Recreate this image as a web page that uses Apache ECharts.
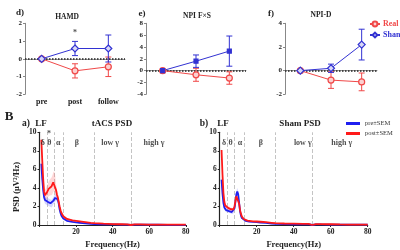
<!DOCTYPE html>
<html><head><meta charset="utf-8">
<script src="https://cdn.jsdelivr.net/npm/echarts@6/dist/echarts.min.js"></script>
<style>html,body{margin:0;padding:0;background:#fff}#c{width:400px;height:250px}</style>
</head><body><div id="c"></div>
<script>
// ---------- data ----------
const categories = ['pre', 'post', 'follow'];
const hamdReal = [0, -0.68, -0.45];
const hamdRealErr = [0, 0.4, 0.55];
const hamdSham = [0, 0.58, 0.58];
const hamdShamErr = [0, 0.4, 0.76];
const npiFSReal = [0, -0.7, -1.25];
const npiFSRealErr = [0, 1.1, 1.05];
const npiFSSham = [0, 1.6, 3.3];
const npiFSShamErr = [0, 1.05, 2.55];
const npiDReal = [0, -0.8, -0.95];
const npiDRealErr = [0, 0.7, 0.75];
const npiDSham = [0, 0.2, 2.2];
const npiDShamErr = [0, 0.35, 1.3];

const freqs = [1,1.5,2,2.5,3,3.5,4,4.5,5,5.5,6,6.5,7,7.5,8,8.5,9,9.5,10,10.5,11,11.5,12,13,14,15,16,18,20,22,25,28,30,35,40,45,48,49,50,51,52,55,60,65,70,75,80];
const tacsPre = [6.6,5.0,3.8,3.0,2.7,2.6,2.55,2.5,2.45,2.4,2.35,2.3,2.4,2.6,2.75,2.9,3.0,3.0,2.8,2.3,1.7,1.3,1.0,0.7,0.55,0.45,0.4,0.33,0.28,0.24,0.18,0.12,0.1,0.07,0.06,0.05,0.05,0.03,0.0,0.03,0.04,0.04,0.03,0.03,0.02,0.02,0.02];
const tacsPost = [9.2,7.0,5.0,3.6,3.2,3.3,3.5,3.7,3.9,4.0,4.1,4.15,4.3,4.6,4.75,4.5,3.8,3.3,3.0,2.5,2.0,1.6,1.3,0.95,0.75,0.65,0.58,0.5,0.45,0.4,0.32,0.24,0.2,0.14,0.1,0.08,0.07,0.04,0.0,0.04,0.06,0.06,0.05,0.04,0.04,0.03,0.03];
const shamPre = [4.9,3.4,2.4,1.9,1.7,1.6,1.55,1.55,1.5,1.5,1.45,1.4,1.4,1.5,1.8,2.5,3.3,3.6,3.3,2.4,1.5,1.0,0.75,0.55,0.45,0.4,0.37,0.33,0.3,0.27,0.22,0.15,0.12,0.09,0.08,0.08,0.09,0.05,0.0,0.05,0.07,0.06,0.05,0.04,0.04,0.03,0.03];
const shamPost = [8.1,5.5,3.5,2.5,2.1,2.0,1.9,1.85,1.8,1.75,1.7,1.65,1.6,1.7,2.0,2.6,3.1,3.3,3.0,2.3,1.6,1.2,0.9,0.65,0.52,0.47,0.43,0.4,0.38,0.35,0.3,0.24,0.2,0.16,0.14,0.12,0.12,0.06,0.0,0.06,0.1,0.09,0.08,0.06,0.05,0.05,0.04];
const semTacsPre = [0.6,0.5,0.45,0.4,0.4, 0.4,0.4,0.4,0.4,0.4, 0.4,0.4,0.4,0.4,0.4, 0.4,0.4,0.4,0.35,0.3, 0.25,0.2,0.15,0.1,0.08, 0.07,0.06,0.05,0.05,0.04, 0.03,0.03,0.02,0.02,0.02, 0.02,0.02,0.02,0.01,0.02, 0.02,0.02,0.02,0.01,0.01, 0.01,0.01];
const semTacsPost = [0.7,0.65,0.6,0.6,0.6, 0.65,0.7,0.75,0.8,0.85, 0.9,0.95,1.0,1.05,1.05, 0.95,0.7,0.55,0.5,0.45, 0.4,0.3,0.25,0.18,0.14, 0.12,0.1,0.08,0.07,0.06, 0.05,0.04,0.03,0.03,0.02, 0.02,0.02,0.02,0.01,0.02, 0.02,0.02,0.02,0.02,0.01, 0.01,0.01];
const semShamPre = [0.45,0.35,0.3,0.25,0.22, 0.2,0.2,0.2,0.2,0.2, 0.2,0.2,0.2,0.2,0.25, 0.3,0.35,0.4,0.35,0.3, 0.2,0.15,0.1,0.08,0.06, 0.05,0.05,0.04,0.04,0.03, 0.03,0.02,0.02,0.02,0.02, 0.02,0.02,0.02,0.01,0.02, 0.02,0.02,0.02,0.01,0.01, 0.01,0.01];
const semShamPost = [0.5,0.4,0.3,0.25,0.22, 0.2,0.2,0.2,0.2,0.2, 0.2,0.2,0.2,0.2,0.25, 0.3,0.35,0.35,0.3,0.25, 0.2,0.15,0.1,0.08,0.06, 0.05,0.05,0.04,0.04,0.03, 0.03,0.02,0.02,0.02,0.02, 0.02,0.02,0.02,0.01,0.02, 0.02,0.02,0.02,0.01,0.01, 0.01,0.01];

const bandEdges = [4, 8, 13, 30, 50];
const bandLabelsA = [['δ', 1.8], ['θ', 5.4], ['α', 10.3], ['β', 20.4], ['low γ', 38.6], ['high γ', 62.6]];
const bandLabelsB = [['δ', 2.3], ['θ', 5.9], ['α', 11], ['β', 22.3], ['low γ', 44.9], ['high γ', 66]];
const bandLabelY = 8.9;
const starA = [[5.2, 9.85]];
const starHamd = [[1, 1.45]];
const topRanges = [[-2, 2, 1], [-4, 8, 2], [-2, 4, 2]];
const psdTicks = [0, 10, 2];
const freqRange = [0, 80, 20];

// ---------- style ----------
const SERIF = '"Liberation Serif","Times New Roman",serif';
const RED = '#f04848', BLUE = '#3232d2';
const PRED = '#ff1a1a', PBLUE = '#1f1ff0';
const TXT = '#222';

function errSeries(xi, mean, err, color) {
  return {
    type: 'custom', xAxisIndex: xi, yAxisIndex: xi, z: 3, silent: true,
    data: mean.map((m, i) => [i, m, err[i]]),
    encode: { x: 0, y: 1 },
    renderItem: function (p, api) {
      const x = api.value(0), m = api.value(1), e = api.value(2);
      if (!e) return { type: 'group', children: [] };
      const t = api.coord([x, m + e]), b = api.coord([x, m - e]); const w = 3;
      const st = { stroke: color, lineWidth: 1 };
      return { type: 'group', children: [
        { type: 'line', shape: { x1: t[0], y1: t[1], x2: b[0], y2: b[1] }, style: st },
        { type: 'line', shape: { x1: t[0] - w, y1: t[1], x2: t[0] + w, y2: t[1] }, style: st },
        { type: 'line', shape: { x1: b[0] - w, y1: b[1], x2: b[0] + w, y2: b[1] }, style: st }
      ]};
    }
  };
}
function topLine(xi, name, data, color, fill, symbol, size, zero) {
  const s = {
    type: 'line', name: name, xAxisIndex: xi, yAxisIndex: xi, data: data,
    symbol: symbol, symbolSize: size, z: 4, emphasis: { disabled: true },
    lineStyle: { color: color, width: 1 },
    itemStyle: { color: fill, borderColor: color, borderWidth: 1.2 }
  };
  if (zero) s.markLine = { silent: true, symbol: 'none', label: { show: false }, z: 1,
    lineStyle: { type: 'dotted', color: '#222', width: 1.5 }, data: [{ yAxis: 0 }] };
  return s;
}
function psdLine(xi, name, vals, color, edges) {
  const s = {
    type: 'line', name: name, xAxisIndex: xi, yAxisIndex: xi, symbol: 'none', z: 4,
    data: freqs.map((f, i) => [f, vals[i]]), emphasis: { disabled: true },
    lineStyle: { color: color, width: 1.8 }, itemStyle: { color: color }
  };
  if (edges) s.markLine = { silent: true, symbol: 'none', label: { show: false }, z: 1,
    lineStyle: { type: 'dashed', color: '#c4c4c4', width: 1 }, data: bandEdges.map(v => ({ xAxis: v })) };
  return s;
}
function bandSeries(xi, mean, sem, color) {
  return {
    type: 'custom', xAxisIndex: xi, yAxisIndex: xi, z: 2, silent: true,
    data: [[freqs[0], mean[0]]],
    renderItem: function (p, api) {
      const up = freqs.map((f, i) => api.coord([f, mean[i] + sem[i]]));
      const lo = freqs.map((f, i) => api.coord([f, Math.max(0, mean[i] - sem[i])])).reverse();
      return { type: 'polygon', shape: { points: up.concat(lo) }, style: { fill: color } };
    }
  };
}
function labelSeries(xi, items, size) {
  return {
    type: 'scatter', xAxisIndex: xi, yAxisIndex: xi, symbolSize: 1, silent: true, z: 5,
    itemStyle: { color: 'rgba(0,0,0,0)' },
    data: items.map(it => ({ value: it.value, name: it.name })),
    label: { show: true, position: 'inside', formatter: '{b}', color: TXT,
      fontFamily: SERIF, fontWeight: 'bold', fontSize: size }
  };
}
function txt(x, y, s, size, extra) {
  return Object.assign({ type: 'text', x: x, y: y, silent: true,
    style: { text: s, fill: TXT, font: 'bold ' + size + 'px ' + SERIF,
      textAlign: 'center', textVerticalAlign: 'middle', align: 'center', verticalAlign: 'middle' } }, extra || {});
}

const grids = [
  { left: 25, top: 23.3, width: 100, height: 71 },
  { left: 146, top: 23.3, width: 100, height: 71 },
  { left: 285, top: 23.3, width: 92, height: 71 },
  { left: 39.5, top: 132.3, width: 146.3, height: 94.4 },
  { left: 219.7, top: 132.3, width: 148, height: 94.4 }
];
const xAxes = [], yAxes = [];
for (let i = 0; i < 3; i++) {
  xAxes.push({ type: 'category', gridIndex: i, data: categories, boundaryGap: true,
    axisLine: { lineStyle: { color: '#999', width: 1 } },
    axisTick: { alignWithLabel: true, length: 2, lineStyle: { color: '#999' } },
    axisLabel: { show: i === 0, margin: 4, color: TXT, fontFamily: SERIF, fontWeight: 'bold', fontSize: 8 } });
  yAxes.push({ type: 'value', gridIndex: i, min: topRanges[i][0], max: topRanges[i][1], interval: topRanges[i][2],
    axisLine: { show: true, lineStyle: { color: '#888', width: 1 } },
    axisTick: { show: true, length: 2, lineStyle: { color: '#888' } },
    splitLine: { show: false },
    axisLabel: { margin: 3, color: TXT, fontFamily: SERIF, fontWeight: 'bold', fontSize: 7 } });
}
for (let i = 3; i < 5; i++) {
  xAxes.push({ type: 'value', gridIndex: i, min: freqRange[0], max: freqRange[1], interval: freqRange[2],
    name: 'Frequency(Hz)', nameLocation: 'middle', nameGap: 15,
    nameTextStyle: { color: TXT, fontFamily: SERIF, fontWeight: 'bold', fontSize: 8.5 },
    axisLine: { onZero: false, lineStyle: { color: '#222', width: 1.2 } },
    axisTick: { show: true, length: 2, lineStyle: { color: '#222' } },
    splitLine: { show: false },
    axisLabel: { margin: 3, color: TXT, fontFamily: SERIF, fontWeight: 'bold', fontSize: 7.5,
      formatter: v => (v === 0 ? '' : String(v)) } });
  yAxes.push({ type: 'value', gridIndex: i, min: psdTicks[0], max: psdTicks[1], interval: psdTicks[2],
    axisLine: { show: true, lineStyle: { color: '#222', width: 1.2 } },
    axisTick: { show: true, length: 2, lineStyle: { color: '#222' } },
    splitLine: { show: false },
    axisLabel: { margin: 3, color: TXT, fontFamily: SERIF, fontWeight: 'bold', fontSize: 7.5 } });
}

const series = [
  errSeries(0, hamdReal, hamdRealErr, RED), errSeries(0, hamdSham, hamdShamErr, BLUE),
  topLine(0, 'Real', hamdReal, RED, '#fbd0d0', 'circle', 6, true),
  topLine(0, 'Sham', hamdSham, BLUE, '#d8d8f6', 'diamond', 7, false),
  labelSeries(0, starHamd.map(p => ({ value: p, name: '*' })), 8),

  errSeries(1, npiFSReal, npiFSRealErr, RED), errSeries(1, npiFSSham, npiFSShamErr, BLUE),
  topLine(1, 'Real', npiFSReal, RED, '#fbd0d0', 'circle', 6, true),
  topLine(1, 'Sham', npiFSSham, BLUE, BLUE, 'rect', 4, false),

  errSeries(2, npiDReal, npiDRealErr, RED), errSeries(2, npiDSham, npiDShamErr, BLUE),
  topLine(2, 'Real', npiDReal, RED, '#fbd0d0', 'circle', 6, true),
  topLine(2, 'Sham', npiDSham, BLUE, '#d8d8f6', 'diamond', 7, false),

  bandSeries(3, tacsPre, semTacsPre, 'rgba(110,110,255,0.28)'),
  bandSeries(3, tacsPost, semTacsPost, 'rgba(255,110,110,0.28)'),
  psdLine(3, 'pre±SEM', tacsPre, PBLUE, true),
  psdLine(3, 'post±SEM', tacsPost, PRED, false),
  labelSeries(3, bandLabelsA.map(b => ({ value: [b[1], bandLabelY], name: b[0] })), 8),
  labelSeries(3, starA.map(p => ({ value: p, name: '*' })), 8),

  bandSeries(4, shamPre, semShamPre, 'rgba(110,110,255,0.28)'),
  bandSeries(4, shamPost, semShamPost, 'rgba(255,110,110,0.28)'),
  psdLine(4, 'pre±SEM', shamPre, PBLUE, true),
  psdLine(4, 'post±SEM', shamPost, PRED, false),
  labelSeries(4, bandLabelsB.map(b => ({ value: [b[1], bandLabelY], name: b[0] })), 8)
];

const option = {
  animation: false,
  backgroundColor: '#fff',
  grid: grids,
  xAxis: xAxes,
  yAxis: yAxes,
  legend: [
    { data: [{ name: 'Real', textStyle: { color: RED } }, { name: 'Sham', textStyle: { color: BLUE } }],
      orient: 'vertical', left: 369, top: 20, itemWidth: 10, itemHeight: 6, itemGap: 3, padding: 0,
      selectedMode: false,
      textStyle: { fontFamily: SERIF, fontWeight: 'bold', fontSize: 8, padding: [0, 0, 0, -2] } },
    { data: ['pre±SEM', 'post±SEM'], orient: 'vertical', left: 346, top: 120,
      icon: 'rect', itemWidth: 14, itemHeight: 3, itemGap: 3, padding: 0, selectedMode: false,
      textStyle: { fontFamily: SERIF, fontSize: 6.5, color: '#333' } }
  ],
  graphic: [
    txt(20, 13, 'd)', 9), txt(67, 17, 'HAMD', 7.5),
    txt(142, 14, 'e)', 9), txt(197, 16, 'NPI F×S', 7.5),
    txt(271, 14, 'f)', 9), txt(321, 15, 'NPI-D', 7.5),
    txt(9, 117, 'B', 13),
    txt(26, 123.5, 'a)', 9.5), txt(41, 123.5, 'LF', 9), txt(112, 124, 'tACS PSD', 9),
    txt(204, 123.5, 'b)', 9.5), txt(223, 123.5, 'LF', 9), txt(300, 124, 'Sham PSD', 9),
    txt(16.5, 187, 'PSD (μV²/Hz)', 8.5, { rotation: Math.PI / 2 })
  ],
  series: series
};
echarts.init(document.getElementById('c'), null, { renderer: 'canvas' }).setOption(option);
</script></body></html>
